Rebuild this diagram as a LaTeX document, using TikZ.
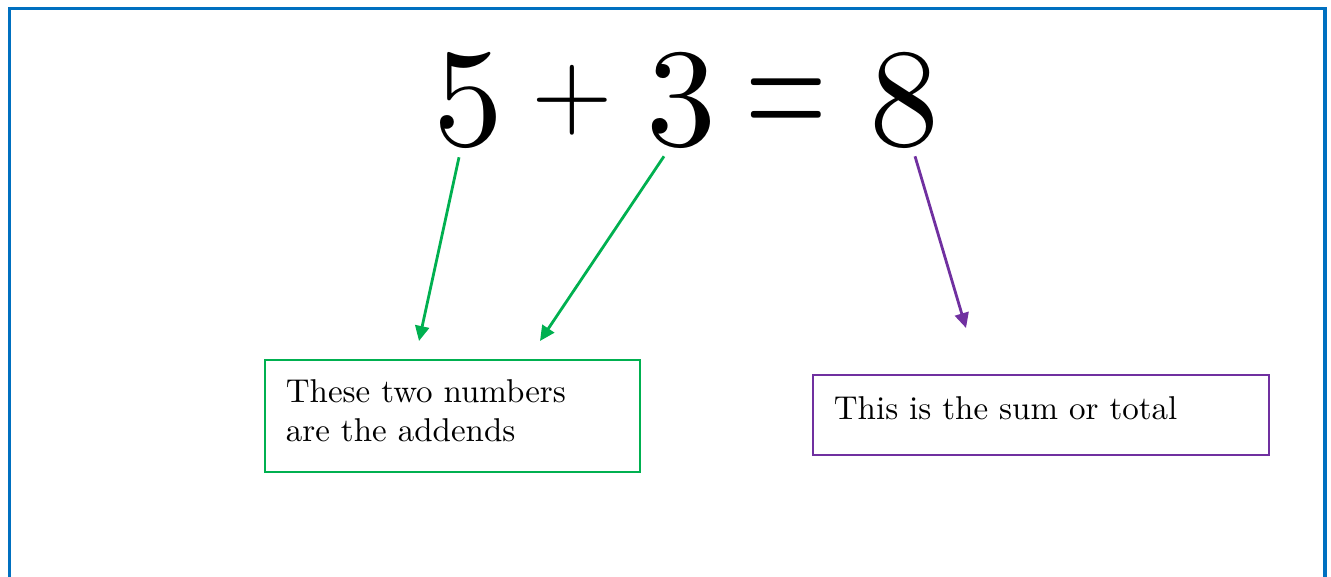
\documentclass[tikz,border=0pt]{standalone}
\usepackage{fontspec}
\setmainfont{lmroman10-regular.otf}
\usetikzlibrary{arrows.meta,calc}
\definecolor{frameblue}{RGB}{0,112,192}
\definecolor{green}{RGB}{0,176,80}
\definecolor{purple}{RGB}{112,48,160}

\begin{document}
\begin{tikzpicture}[x=1pt,y=-1pt,
 sym/.style={anchor=base,inner sep=0pt,font=\fontsize{140}{140}\selectfont},
 op/.style={anchor=center,inner sep=0pt,font=\fontsize{105}{105}\selectfont},
 box/.style={draw=#1,line width=1.8pt,anchor=north west,align=left,
 inner xsep=21pt,inner ysep=0pt,font=\fontsize{33}{39}\selectfont},
 arrow/.style={-{Triangle[length=15pt,width=14pt]},line width=2.8pt,draw=#1}
]
\useasboundingbox (0,0) rectangle (1331,577);
\clip (0,0) rectangle (1331,577);
\draw[frameblue,line width=3.6pt] (9.5,620) |- (1325,8.5) -- (1325,620);
% the sum
\node[sym] (n5) at (468,146) {5};
\node[op] (plus) at (572,100) {+};
\node[sym] (n3) at (681,146) {3};
\node[op] (eq) at (786,110) {\scalebox{1}[1.6]{=}};
\node[sym] (n8) at (904,146) {8};
% labels
\node[box=green,text width=333pt,minimum height=112pt,text depth=50pt] (addends)
 at (264,359) {These two numbers\\are the addends};
\node[box=purple,text width=414pt,minimum height=80pt,text depth=14pt] (total)
 at (812,374) {This is the sum or total};
\coordinate (tip5) at (419,341);
\coordinate (tip3) at (540,341);
\coordinate (tip8) at (966,328);
\draw[arrow=green] ($(n5.south)+(-9,8)$) -- (tip5);
\draw[arrow=green] ($(n3.south)+(-17,7)$) -- (tip3);
\draw[arrow=purple] ($(n8.south)+(11,7)$) -- (tip8);
\end{tikzpicture}
\end{document}
